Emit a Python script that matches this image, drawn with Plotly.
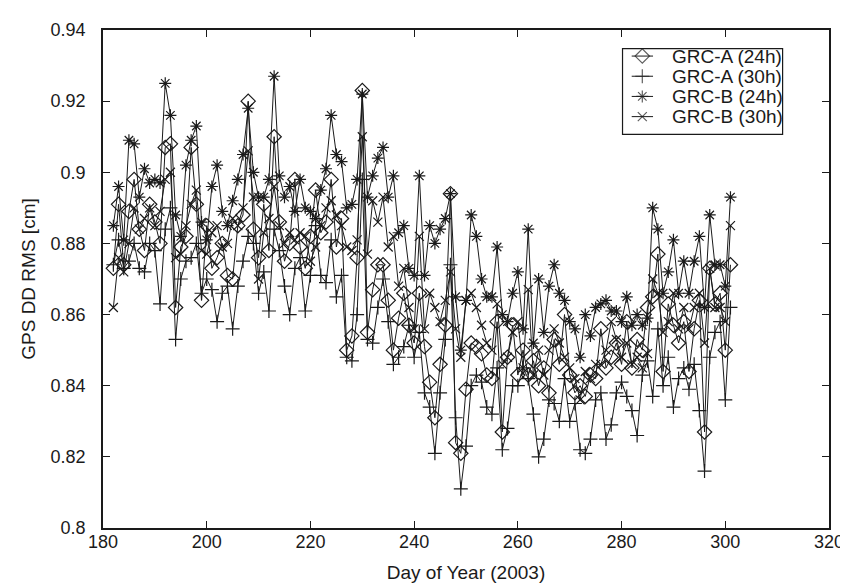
import plotly.graph_objects as go

days = list(range(182, 302))

grc_a_24h = [
    0.873, 0.891, 0.874, 0.889, 0.898, 0.884, 0.878, 0.891, 0.886, 0.880,
    0.907, 0.908, 0.862, 0.879, 0.882, 0.907, 0.891, 0.864, 0.885, 0.873,
    0.876, 0.880, 0.871, 0.870, 0.885, 0.888, 0.920, 0.884, 0.876, 0.891,
    0.878, 0.910, 0.886, 0.875, 0.880, 0.898, 0.879, 0.873, 0.882, 0.895,
    0.883, 0.886, 0.898, 0.879, 0.887, 0.850, 0.854, 0.876, 0.923, 0.855,
    0.867, 0.874, 0.874, 0.864, 0.850, 0.859, 0.866, 0.857, 0.852, 0.866,
    0.851, 0.841, 0.831, 0.846, 0.857, 0.894, 0.824, 0.821, 0.839, 0.852,
    0.851, 0.849, 0.843, 0.842, 0.858, 0.827, 0.848, 0.857, 0.843, 0.850,
    0.843, 0.847, 0.840, 0.845, 0.838, 0.853, 0.846, 0.860, 0.843, 0.838,
    0.840, 0.837, 0.843, 0.842, 0.856, 0.845, 0.848, 0.852, 0.846, 0.858,
    0.845, 0.853, 0.850, 0.862, 0.865, 0.877, 0.844, 0.863, 0.857, 0.852,
    0.858, 0.844, 0.856, 0.864, 0.827, 0.873, 0.863, 0.866, 0.850, 0.874,
]

grc_a_30h = [
    0.874, 0.881, 0.873, 0.875, 0.880, 0.873, 0.872, 0.880, 0.878, 0.863,
    0.884, 0.890, 0.853, 0.870, 0.875, 0.876, 0.880, 0.866, 0.870, 0.867,
    0.858, 0.866, 0.868, 0.856, 0.868, 0.875, 0.882, 0.880, 0.866, 0.872,
    0.861, 0.884, 0.878, 0.868, 0.860, 0.873, 0.876, 0.861, 0.871, 0.885,
    0.871, 0.869, 0.881, 0.865, 0.871, 0.848, 0.847, 0.860, 0.898, 0.853,
    0.852, 0.862, 0.870, 0.858, 0.846, 0.848, 0.851, 0.857, 0.848, 0.855,
    0.838, 0.834, 0.821, 0.838, 0.853, 0.874, 0.831, 0.811, 0.823, 0.840,
    0.843, 0.841, 0.834, 0.832, 0.845, 0.822, 0.828, 0.840, 0.840, 0.845,
    0.842, 0.832, 0.820, 0.825, 0.836, 0.835, 0.830, 0.842, 0.830, 0.835,
    0.822, 0.821, 0.825, 0.836, 0.838, 0.825, 0.829, 0.838, 0.841, 0.837,
    0.833, 0.826, 0.843, 0.847, 0.837, 0.856, 0.840, 0.848, 0.834, 0.842,
    0.845, 0.839, 0.846, 0.833, 0.816, 0.848, 0.855, 0.858, 0.836, 0.862,
]

grc_b_24h = [
    0.885, 0.896, 0.881, 0.909, 0.908, 0.893, 0.901, 0.897, 0.898, 0.897,
    0.925, 0.916, 0.888, 0.882, 0.902, 0.909, 0.913, 0.886, 0.881, 0.896,
    0.902, 0.889, 0.885, 0.892, 0.898, 0.905, 0.918, 0.900, 0.893, 0.893,
    0.898, 0.927, 0.899, 0.893, 0.896, 0.889, 0.898, 0.890, 0.889, 0.887,
    0.895, 0.901, 0.916, 0.905, 0.903, 0.890, 0.891, 0.898, 0.922, 0.893,
    0.899, 0.904, 0.907, 0.893, 0.899, 0.883, 0.885, 0.873, 0.871, 0.899,
    0.871, 0.885, 0.880, 0.884, 0.887, 0.894, 0.865, 0.850, 0.864, 0.888,
    0.882, 0.870, 0.865, 0.865, 0.879, 0.860, 0.858, 0.866, 0.872, 0.856,
    0.884, 0.852, 0.870, 0.855, 0.868, 0.874, 0.866, 0.864, 0.858, 0.856,
    0.848, 0.860, 0.854, 0.862, 0.863, 0.864, 0.861, 0.861, 0.858, 0.865,
    0.857, 0.860, 0.857, 0.859, 0.890, 0.884, 0.866, 0.872, 0.881, 0.866,
    0.875, 0.866, 0.875, 0.882, 0.862, 0.888, 0.874, 0.874, 0.868, 0.893,
]

grc_b_30h = [
    0.862, 0.876, 0.872, 0.880, 0.890, 0.884, 0.887, 0.890, 0.885, 0.889,
    0.898, 0.900, 0.876, 0.877, 0.885, 0.891, 0.895, 0.878, 0.877, 0.883,
    0.885, 0.879, 0.880, 0.887, 0.885, 0.890, 0.906, 0.893, 0.870, 0.883,
    0.887, 0.896, 0.885, 0.880, 0.883, 0.881, 0.883, 0.882, 0.875, 0.879,
    0.885, 0.890, 0.892, 0.888, 0.885, 0.879, 0.878, 0.881, 0.910, 0.877,
    0.892, 0.886, 0.893, 0.879, 0.882, 0.868, 0.873, 0.862, 0.856, 0.882,
    0.856, 0.866, 0.862, 0.858, 0.864, 0.872, 0.856, 0.848, 0.864, 0.866,
    0.862, 0.857, 0.852, 0.850, 0.863, 0.846, 0.848, 0.855, 0.858, 0.845,
    0.867, 0.843, 0.850, 0.843, 0.850, 0.856, 0.852, 0.848, 0.845, 0.842,
    0.836, 0.844, 0.842, 0.846, 0.846, 0.850, 0.858, 0.853, 0.848, 0.852,
    0.846, 0.848, 0.845, 0.849, 0.870, 0.866, 0.855, 0.858, 0.866, 0.856,
    0.862, 0.856, 0.862, 0.866, 0.852, 0.873, 0.862, 0.862, 0.858, 0.885,
]

series_names = ["GRC-A (24h)", "GRC-A (30h)", "GRC-B (24h)", "GRC-B (30h)"]
x_ticks = [180, 200, 220, 240, 260, 280, 300, 320]
y_ticks = [0.8, 0.82, 0.84, 0.86, 0.88, 0.9, 0.92, 0.94]
y_tick_text = ["0.8", "0.82", "0.84", "0.86", "0.88", "0.9", "0.92", "0.94"]

INK = "#1a1a1a"
styles = [
    dict(symbol="diamond-open", size=11),
    dict(symbol="cross-thin-open", size=10),
    dict(symbol="asterisk-open", size=10),
    dict(symbol="x-thin-open", size=9),
]

fig = go.Figure()
all_series = [grc_a_24h, grc_a_30h, grc_b_24h, grc_b_30h]
for name, vals, st in zip(series_names, all_series, styles):
    fig.add_trace(go.Scatter(
        x=days, y=vals, name=name, mode="lines+markers", showlegend=False,
        line=dict(color=INK, width=1),
        marker=dict(symbol=st["symbol"], size=st["size"], color=INK,
                    line=dict(color=INK, width=1.2)),
    ))

# legend (gnuplot-style key) drawn on a small overlay axis
for k, (name, st) in enumerate(zip(series_names, styles), start=1):
    fig.add_trace(go.Scatter(
        x=[0, 0.5, 1], y=[k, k, k], xaxis="x2", yaxis="y2",
        mode="lines+markers", showlegend=False, hoverinfo="skip",
        line=dict(color=INK, width=1),
        marker=dict(symbol=st["symbol"], size=[0, st["size"], 0], color=INK,
                    line=dict(color=INK, width=1.2)),
    ))
    fig.add_annotation(
        x=0.7810, y=k, xref="paper", yref="y2", text=name, showarrow=False,
        xanchor="left", yanchor="middle", font=dict(size=19, color=INK),
    )

fig.add_shape(type="rect", xref="paper", yref="paper",
              x0=0.7156, x1=0.9361, y0=0.7905, y1=0.9625,
              line=dict(color=INK, width=1.2), fillcolor="rgba(0,0,0,0)")

font_family = "Liberation Sans, Arial, sans-serif"
fig.update_layout(
    width=848, height=585,
    margin=dict(l=95, r=18, t=14, b=65),
    paper_bgcolor="white", plot_bgcolor="white",
    font=dict(family=font_family, size=18, color=INK),
    showlegend=False,
    xaxis=dict(
        range=[180, 320], tickvals=x_ticks, ticks="inside", ticklen=7,
        tickcolor=INK, showline=True, linecolor=INK, linewidth=1.5,
        mirror="ticks", showgrid=False, zeroline=False,
        tickfont=dict(size=18), ticklabelstandoff=-3,
        title=dict(text="Day of Year (2003)", font=dict(size=19), standoff=14),
    ),
    yaxis=dict(
        range=[0.8, 0.94], tickvals=y_ticks, ticktext=y_tick_text, ticks="inside", ticklen=7,
        tickcolor=INK, showline=True, linecolor=INK, linewidth=1.5,
        mirror="ticks", showgrid=False, zeroline=False,
        tickfont=dict(size=18), ticklabelstandoff=12,
        title=dict(text="GPS DD RMS [cm]", font=dict(size=19), standoff=10),
    ),
    xaxis2=dict(domain=[0.7279, 0.7578], range=[0, 1], anchor="y2",
                visible=False, fixedrange=True),
    yaxis2=dict(domain=[0.7905, 0.9625], range=[4.878, 0.634], anchor="x2",
                visible=False, fixedrange=True),
)

fig.write_html("out.html")
